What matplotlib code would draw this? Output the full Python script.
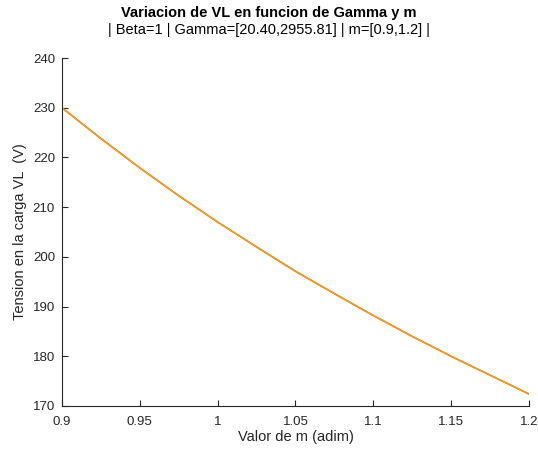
import matplotlib

matplotlib.use("Agg")
import matplotlib.pyplot as plt

plt.rcParams["font.family"] = ["Liberation Sans", "DejaVu Sans"]

# values (VL vs m)
m_vals = [0.9, 0.925, 0.95, 0.975, 1.0, 1.025, 1.05, 1.075, 1.1, 1.125, 1.15, 1.175, 1.2]
vl_vals = [230.0, 223.8, 217.9, 212.3, 207.0, 202.0, 197.1, 192.6, 188.2, 184.0, 180.0, 176.2, 172.4]
x_ticks = [0.9, 0.95, 1.0, 1.05, 1.1, 1.15, 1.2]
x_labels = ["0.9", "0.95", "1", "1.05", "1.1", "1.15", "1.2"]
y_ticks = [170, 180, 190, 200, 210, 220, 230, 240]

AX = "#262626"

fig = plt.figure(figsize=(5.38, 4.5), dpi=100)
ax = fig.add_axes([0.1152, 0.0978, 0.8681, 0.7732])

# overlapping curves (one per gamma) -> orange under gold
ax.plot(m_vals, vl_vals, color="#D95319", lw=1.2)
ax.plot(m_vals, vl_vals, color="#EDB120", lw=0.9, alpha=0.9)

ax.set_xlim(0.9, 1.2)
ax.set_ylim(170, 240)
ax.set_xticks(x_ticks)
ax.set_xticklabels(x_labels)
ax.set_yticks(y_ticks)

for s in ("top", "right"):
    ax.spines[s].set_visible(False)
for s in ("left", "bottom"):
    ax.spines[s].set_color(AX)
    ax.spines[s].set_linewidth(0.8)
ax.tick_params(direction="in", length=4, width=0.8, colors=AX, labelsize=9.5)
ax.tick_params(axis="x", pad=7)
ax.tick_params(axis="y", pad=5)

ax.set_xlabel("Valor de m (adim)", fontsize=10.5, color=AX, labelpad=2)
ax.set_ylabel("Tension en la carga VL  (V)", fontsize=10.5, color=AX)

fig.text(0.5, 0.972, "Variacion de VL en funcion de Gamma y m", ha="center", va="center",
         fontsize=10.5, fontweight="bold", color="black")
fig.text(0.5, 0.933, "| Beta=1 | Gamma=[20.40,2955.81] | m=[0.9,1.2] |", ha="center",
         va="center", fontsize=10.5, color="black")

fig.savefig("out.png", dpi=100)
